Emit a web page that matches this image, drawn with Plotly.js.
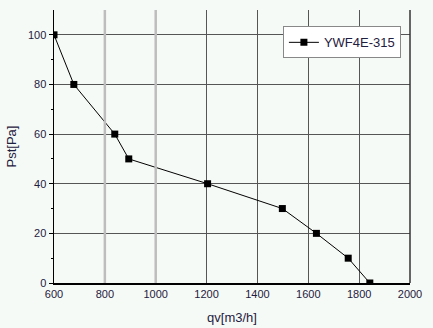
<!DOCTYPE html>
<html><head><meta charset="utf-8">
<script src="https://cdn.plot.ly/plotly-3.0.1.min.js"></script>
<style>html,body{margin:0;padding:0;background:#f6faf6;}#c{width:433px;height:328px;}</style>
</head><body><div id="c"></div>
<script>
var seriesName = 'YWF4E-315';
var qv = [600, 678, 839, 894, 1204, 1498, 1632, 1757, 1842];
var pst = [100, 80, 60, 50, 40, 30, 20, 10, 0];
var xTicks = [600, 800, 1000, 1200, 1400, 1600, 1800, 2000];
var yTicks = [0, 20, 40, 60, 80, 100];
var lightGrid = [800, 1000];

var shapes = lightGrid.map(function(v){
  return {type:'line', xref:'x', yref:'paper', x0:v, x1:v, y0:0, y1:1, line:{color:'#bdbdbd', width:2.5}, layer:'above'};
});
shapes.push({type:'line', xref:'paper', yref:'paper', x0:1, x1:1, y0:0, y1:1, line:{color:'#333', width:1.5}});

var trace = {x: qv, y: pst, name: seriesName, type:'scatter', mode:'lines+markers',
  line:{color:'#000', width:1}, marker:{symbol:'square', size:7, color:'#000'}};

var layout = {
  width:433, height:328,
  margin:{l:54, r:23, t:10, b:45},
  paper_bgcolor:'#f6faf6', plot_bgcolor:'#f6faf6',
  font:{family:'Liberation Sans, Arial, sans-serif', size:11, color:'#1f2040'},
  showlegend:true,
  legend:{x:0.643, y:0.94, xanchor:'left', yanchor:'top', bgcolor:'#ffffff', bordercolor:'#888', borderwidth:1,
    font:{size:13, color:'#1f2040'}, tracegroupgap:0, itemwidth:30},
  xaxis:{range:[600,2000], tickvals:xTicks, ticktext:xTicks.map(String), showgrid:true, gridcolor:'#555', gridwidth:1,
    showline:true, linecolor:'#000', linewidth:1.5, zeroline:false, ticks:'',
    title:{text:'qv[m3/h]', font:{size:13, color:'#1f2040'}, standoff:14}},
  yaxis:{range:[0,110], tickvals:yTicks, ticktext:yTicks.map(String), showgrid:true, gridcolor:'#555', gridwidth:1,
    showline:true, linecolor:'#000', linewidth:1.5, zeroline:false, ticks:'outside', ticklen:4, tickcolor:'#000',
    minor:{tickvals:[10,30,50,70,90], ticks:'outside', ticklen:2, tickcolor:'#000', showgrid:false},
    title:{text:'Pst[Pa]', font:{size:13, color:'#1f2040'}, standoff:8}},
  shapes: shapes
};
Plotly.newPlot('c', [trace], layout, {displayModeBar:false, staticPlot:true});
</script></body></html>
